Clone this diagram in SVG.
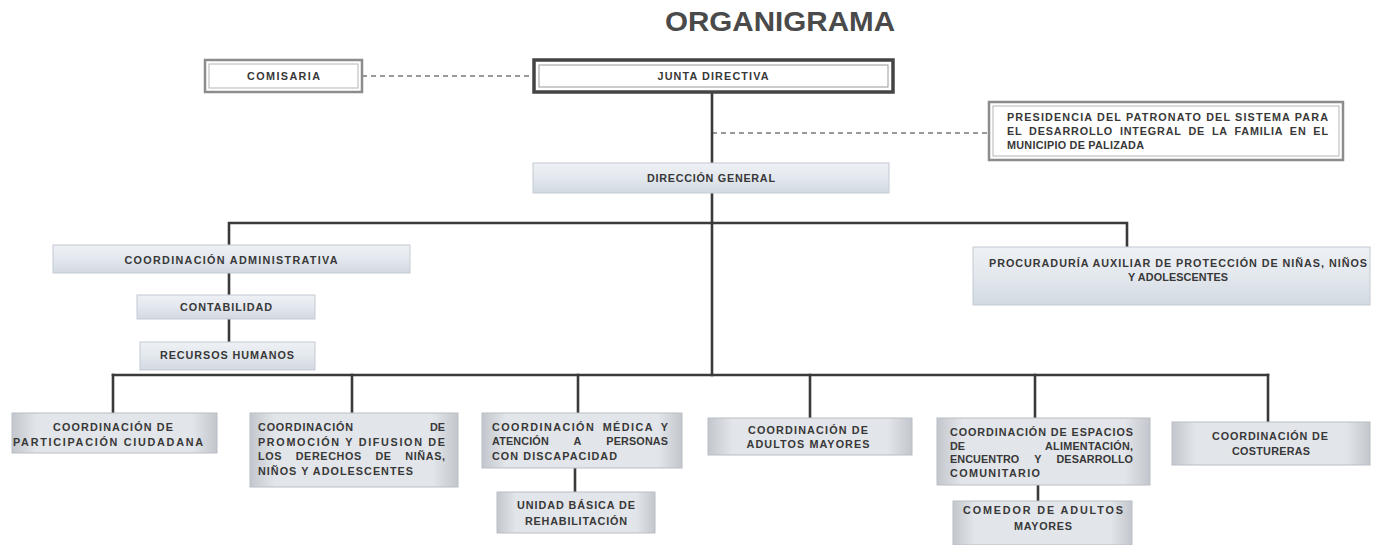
<svg xmlns="http://www.w3.org/2000/svg" width="1373" height="545" viewBox="0 0 1373 545">
<defs>
<linearGradient id="gBlue" x1="0" y1="0" x2="0" y2="1">
<stop offset="0" stop-color="#eef1f5"/>
<stop offset="0.5" stop-color="#e3e8ee"/>
<stop offset="1" stop-color="#d2d9e1"/>
</linearGradient>
<linearGradient id="gGray" x1="0" y1="0" x2="1" y2="0">
<stop offset="0" stop-color="#c3c7cd"/>
<stop offset="0.12" stop-color="#e2e5e9"/>
<stop offset="0.88" stop-color="#e2e5e9"/>
<stop offset="1" stop-color="#c3c7cd"/>
</linearGradient>
<style>
.ln{stroke:#3a3a3a;stroke-width:2.6;fill:none;stroke-linecap:square}
.dl{stroke:#7a7a7a;stroke-width:1.4;fill:none;stroke-dasharray:5 4}
.bb{fill:url(#gBlue);stroke:#c4cad1;stroke-width:1}
.bg{fill:url(#gGray);stroke:#b9bec5;stroke-width:1}
.bw{fill:#ffffff;stroke:#8c8c8c;stroke-width:2.5}
.bwi{fill:none;stroke:#b5b5b5;stroke-width:1}
.bj{fill:#ffffff;stroke:#444444;stroke-width:3.5}
.bji{fill:none;stroke:#9a9a9a;stroke-width:1}
.t{font-family:"Liberation Sans",Arial,sans-serif;font-size:10.8px;font-weight:bold;fill:#383838}
.c{text-anchor:middle}
.e{text-anchor:end}
.title{font-family:"Liberation Sans",Arial,sans-serif;font-size:28px;font-weight:bold;fill:#4a4a4a;text-anchor:middle}
</style>
</defs>

<rect width="1373" height="545" fill="#ffffff"/>

<text class="title" x="780" y="31" textLength="230" lengthAdjust="spacingAndGlyphs">ORGANIGRAMA</text>

<g id="connectors">
<line class="dl" x1="362" y1="76" x2="534" y2="76"/>
<line class="dl" x1="712" y1="133" x2="989" y2="133"/>
<line class="ln" x1="712" y1="92" x2="712" y2="163"/>
<line class="ln" x1="712" y1="193" x2="712" y2="375"/>
<polyline class="ln" points="229,245 229,223 1127,223 1127,247"/>
<line class="ln" x1="229" y1="273" x2="229" y2="295"/>
<line class="ln" x1="229" y1="319" x2="229" y2="342"/>
<line class="ln" x1="113" y1="375" x2="1268" y2="375"/>
<line class="ln" x1="113" y1="375" x2="113" y2="413"/>
<line class="ln" x1="352" y1="375" x2="352" y2="413"/>
<line class="ln" x1="578" y1="375" x2="578" y2="413"/>
<line class="ln" x1="810" y1="375" x2="810" y2="418"/>
<line class="ln" x1="1035" y1="375" x2="1035" y2="418"/>
<line class="ln" x1="1268" y1="375" x2="1268" y2="422"/>
<line class="ln" x1="575" y1="468" x2="575" y2="492"/>
<line class="ln" x1="1038" y1="485" x2="1038" y2="501"/>
</g>

<g id="comisaria">
<rect class="bw" x="205" y="60" width="157" height="32"/>
<rect class="bwi" x="209" y="64" width="149" height="24"/>
<text class="t c" x="283.5" y="80" textLength="73" lengthAdjust="spacing">COMISARIA</text>
</g>

<g id="junta-directiva">
<rect class="bj" x="534" y="60" width="359" height="32"/>
<rect class="bji" x="539" y="65" width="349" height="22"/>
<text class="t c" x="713" y="80" textLength="111" lengthAdjust="spacing">JUNTA DIRECTIVA</text>
</g>

<g id="presidencia">
<rect class="bw" x="989" y="102" width="354" height="58"/>
<rect class="bwi" x="993" y="106" width="346" height="50"/>
<text class="t" x="1007" y="121" textLength="321" lengthAdjust="spacing">PRESIDENCIA DEL PATRONATO DEL SISTEMA PARA</text>
<text class="t" x="1007" y="135" textLength="321" lengthAdjust="spacing" word-spacing="3">EL DESARROLLO INTEGRAL DE LA FAMILIA EN EL</text>
<text class="t" x="1007" y="149" textLength="137" lengthAdjust="spacing">MUNICIPIO DE PALIZADA</text>
</g>

<g id="direccion-general">
<rect class="bb" x="533" y="163" width="356" height="30"/>
<text class="t c" x="711" y="182" textLength="128" lengthAdjust="spacing">DIRECCIÓN GENERAL</text>
</g>

<g id="coordinacion-administrativa">
<rect class="bb" x="53" y="245" width="357" height="28"/>
<text class="t c" x="231" y="264" textLength="213" lengthAdjust="spacing">COORDINACIÓN ADMINISTRATIVA</text>
</g>

<g id="contabilidad">
<rect class="bb" x="137" y="295" width="178" height="24"/>
<text class="t c" x="226" y="311" textLength="92" lengthAdjust="spacing">CONTABILIDAD</text>
</g>

<g id="recursos-humanos">
<rect class="bb" x="140" y="342" width="175" height="28"/>
<text class="t c" x="227" y="359" textLength="134" lengthAdjust="spacing">RECURSOS HUMANOS</text>
</g>

<g id="procuraduria">
<rect class="bb" x="973" y="247" width="397" height="58"/>
<text class="t c" x="1178" y="267" textLength="378" lengthAdjust="spacing">PROCURADURÍA AUXILIAR  DE PROTECCIÓN DE NIÑAS, NIÑOS</text>
<text class="t c" x="1178" y="281" textLength="100" lengthAdjust="spacing">Y ADOLESCENTES</text>
</g>

<g id="participacion-ciudadana">
<rect class="bg" x="12" y="413" width="205" height="40"/>
<text class="t c" x="113" y="431" textLength="120" lengthAdjust="spacing">COORDINACIÓN DE</text>
<text class="t c" x="108" y="446" textLength="190" lengthAdjust="spacing">PARTICIPACIÓN CIUDADANA</text>
</g>

<g id="promocion-difusion">
<rect class="bg" x="250" y="413" width="208" height="74"/>
<text class="t" x="258" y="431" textLength="95" lengthAdjust="spacing">COORDINACIÓN</text>
<text class="t e" x="445" y="431">DE</text>
<text class="t" x="258" y="446" textLength="187" lengthAdjust="spacing">PROMOCIÓN Y DIFUSION DE</text>
<text class="t" x="258" y="460" textLength="187" lengthAdjust="spacing" word-spacing="10">LOS DERECHOS DE NIÑAS,</text>
<text class="t" x="258" y="475" textLength="155" lengthAdjust="spacing">NIÑOS Y ADOLESCENTES</text>
</g>

<g id="coordinacion-medica">
<rect class="bg" x="482" y="413" width="200" height="55"/>
<text class="t" x="492" y="431" textLength="176" lengthAdjust="spacing" word-spacing="3">COORDINACIÓN MÉDICA Y</text>
<text class="t" x="492" y="445" textLength="176" lengthAdjust="spacing" word-spacing="22">ATENCIÓN A PERSONAS</text>
<text class="t" x="492" y="460" textLength="125" lengthAdjust="spacing">CON DISCAPACIDAD</text>
</g>

<g id="unidad-basica">
<rect class="bg" x="497" y="492" width="158" height="41"/>
<text class="t c" x="576" y="509" textLength="118" lengthAdjust="spacing">UNIDAD BÁSICA DE</text>
<text class="t c" x="576" y="525" textLength="102" lengthAdjust="spacing">REHABILITACIÓN</text>
</g>

<g id="adultos-mayores">
<rect class="bg" x="708" y="418" width="204" height="37"/>
<text class="t c" x="808" y="434" textLength="120" lengthAdjust="spacing">COORDINACIÓN DE</text>
<text class="t c" x="808" y="448" textLength="123" lengthAdjust="spacing">ADULTOS MAYORES</text>
</g>

<g id="espacios-alimentacion">
<rect class="bg" x="937" y="418" width="213" height="67"/>
<text class="t" x="950" y="436" textLength="183" lengthAdjust="spacing">COORDINACIÓN DE ESPACIOS</text>
<text class="t" x="950" y="450">DE</text>
<text class="t e" x="1133" y="450" textLength="88" lengthAdjust="spacing">ALIMENTACIÓN,</text>
<text class="t" x="950" y="463" textLength="183" lengthAdjust="spacing" word-spacing="12">ENCUENTRO Y DESARROLLO</text>
<text class="t" x="950" y="477" textLength="90" lengthAdjust="spacing">COMUNITARIO</text>
</g>

<g id="comedor-adultos">
<rect class="bg" x="953" y="501" width="179" height="44"/>
<text class="t c" x="1043" y="514" textLength="160" lengthAdjust="spacing">COMEDOR DE ADULTOS</text>
<text class="t c" x="1043" y="530" textLength="58" lengthAdjust="spacing">MAYORES</text>
</g>

<g id="costureras">
<rect class="bg" x="1172" y="422" width="198" height="43"/>
<text class="t c" x="1270" y="440" textLength="116" lengthAdjust="spacing">COORDINACIÓN DE</text>
<text class="t c" x="1271" y="455" textLength="78" lengthAdjust="spacing">COSTURERAS</text>
</g>
</svg>
